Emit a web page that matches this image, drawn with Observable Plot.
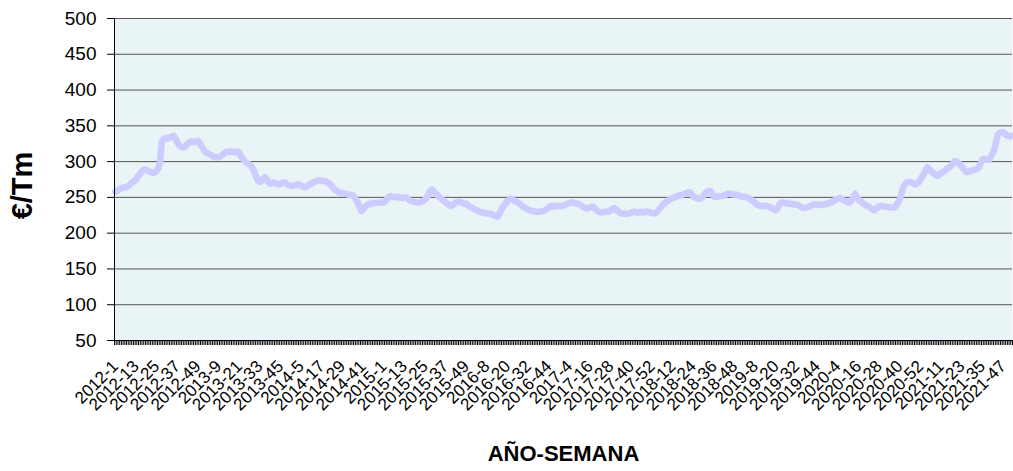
<!DOCTYPE html>
<html>
<head>
<meta charset="utf-8">
<script src="https://cdn.jsdelivr.net/npm/d3@7"></script>
<script src="https://cdn.jsdelivr.net/npm/@observablehq/plot@0.6"></script>
<style>
  html, body { margin: 0; padding: 0; background: #ffffff; }
</style>
</head>
<body>
<div id="chart"></div>
<script>
// Weekly price (€/Tm), one array per year
const years = [2012, 2013, 2014, 2015, 2016, 2017, 2018, 2019, 2020, 2021];
const v2012 = [258,259,261,262,263,264,264,265,267,269,271,273,275,279,282,285,288,289,289,287,286,285,284,285,287,291,300,328,331,333,332,333,334,335,336,332,327,323,321,320,320,322,325,327,328,328,327,328,329,326,322,318];
const v2013 = [314,312,311,310,309,307,306,306,306,307,309,311,313,314,313,314,314,313,313,314,313,308,304,301,299,297,296,293,290,285,278,273,272,273,276,278,275,271,269,270,271,270,269,268,269,270,271,270,268,267,266,266];
const v2014 = [267,267,268,268,266,265,264,265,267,268,269,271,272,273,274,274,273,273,273,271,270,268,265,262,260,259,257,256,256,255,255,254,254,253,253,250,246,243,236,231,233,236,239,240,241,241,242,242,242,243,243,243];
const v2015 = [243,245,248,251,252,251,251,250,251,250,250,249,250,250,248,246,245,244,244,243,243,243,244,245,247,250,254,259,261,259,256,254,251,249,247,245,243,241,239,238,239,241,243,244,244,243,242,241,241,239,237,236,234];
const v2016 = [233,232,231,230,229,229,228,228,227,227,226,225,224,223,226,231,236,239,242,245,247,248,247,245,244,243,241,239,237,235,234,233,232,231,231,230,230,230,230,231,231,232,234,236,238,238,237,238,238,238,238,238];
const v2017 = [239,240,241,242,243,243,242,241,241,240,238,237,235,234,235,236,237,237,234,231,230,229,229,230,230,230,230,232,234,235,233,231,229,228,227,227,227,227,228,229,230,230,229,229,230,229,229,230,230,230,229,228];
const v2018 = [228,228,230,233,236,239,241,243,245,247,248,249,250,251,252,253,253,254,255,256,257,257,254,251,250,249,248,248,250,253,256,258,259,259,255,251,251,251,252,252,252,253,254,255,255,255,254,254,254,253,252,251];
const v2019 = [251,251,250,249,247,246,244,242,240,239,238,238,238,238,238,237,236,234,233,232,235,240,243,243,242,242,241,241,241,240,240,240,239,238,236,235,235,236,237,238,239,240,240,240,239,240,240,240,241,241,242,243];
const v2020 = [244,246,247,248,249,248,246,245,244,243,243,246,252,255,251,247,245,243,241,239,238,237,235,233,232,234,236,238,238,238,237,237,237,236,236,236,236,239,243,248,256,264,268,271,271,271,271,269,268,269,271,275,279];
const v2021 = [283,288,292,290,287,285,283,281,280,282,284,285,287,289,291,292,295,298,301,300,298,296,293,290,287,285,286,287,288,288,289,290,292,298,303,304,303,303,303,307,312,317,328,338,340,341,341,339,337,336,335,336];

const yTicks = [50, 100, 150, 200, 250, 300, 350, 400, 450, 500];
const labelEvery = 12;
const xTitle = "AÑO-SEMANA";
const yTitle = "€/Tm";

const series = [v2012, v2013, v2014, v2015, v2016, v2017, v2018, v2019, v2020, v2021];
const rows = [];
years.forEach((yr, k) => series[k].forEach((v, w) => rows.push({i: rows.length, label: `${yr}-${w + 1}`, v})));
const N = rows.length;
const labelTicks = rows.filter(r => r.i % labelEvery === 0).map(r => r.i);
const bounds = d3.range(N + 1).map(k => k - 0.5);

const chart = Plot.plot({
  width: 1013,
  height: 471,
  marginLeft: 114,
  marginRight: 1,
  marginTop: 18,
  marginBottom: 131,
  style: {fontFamily: "'Liberation Sans', Arial, sans-serif", background: "#ffffff", color: "#000000"},
  x: {type: "linear", domain: [-0.5, N - 0.5]},
  y: {domain: [50, 500]},
  marks: [
    Plot.frame({fill: "#e8f4f5", stroke: "none"}),
    Plot.gridY(yTicks.filter(t => t > 50), {stroke: "#555555", strokeOpacity: 1, strokeWidth: 1}),
    Plot.line(rows, {x: "i", y: "v", stroke: "#ccccff", strokeWidth: 6.5, strokeLinejoin: "round", strokeLinecap: "round"}),
    Plot.axisY({ticks: yTicks, tickSize: 7, tickPadding: 11, fontSize: 19, label: null}),
    Plot.axisX({ticks: bounds, tickSize: 5, tickFormat: () => "", label: null}),
    Plot.axisX({ticks: labelTicks, tickSize: 0, tickPadding: 23, tickRotate: -45, tickFormat: i => rows[i].label, fontSize: 17, label: null}),
    Plot.ruleX([-0.5], {stroke: "#000000"}),
    Plot.ruleY([50], {stroke: "#000000"}),
    Plot.text([yTitle], {frameAnchor: "left", dx: -92, dy: 6, rotate: -90, fontSize: 29, fontWeight: "bold", textAnchor: "middle", lineAnchor: "middle"}),
    Plot.text([xTitle], {frameAnchor: "bottom", dy: 113, fontSize: 22, fontWeight: "bold", textAnchor: "middle", lineAnchor: "middle"})
  ]
});
document.getElementById("chart").appendChild(chart);
</script>
</body>
</html>
